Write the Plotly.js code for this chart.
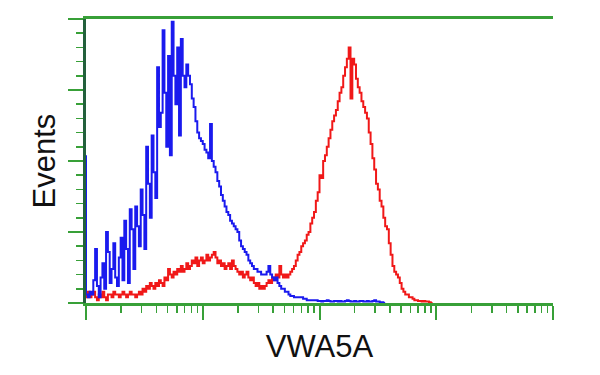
<!DOCTYPE html>
<html>
<head>
<meta charset="utf-8">
<script src="https://cdn.plot.ly/plotly-3.0.1.min.js"></script>
<style>html,body{margin:0;padding:0;background:#fff;}#chart{width:600px;height:375px;}</style>
</head>
<body>
<div id="chart"></div>
<script>
// Histogram channel counts (256 log channels over 4 decades, 64 per decade)
const channelsPerDecade = 64;

// Blue histogram (control), channel 0 upward
const blueCounts = [
  52,3,2,4,3,8,19,6,2,9,
  14,5,25,18,7,12,21,9,6,16,
  23,8,29,19,7,33,26,12,34,27,
  20,40,31,19,55,42,30,59,46,37,
  83,62,67,96,74,55,87,52,99,80,
  70,90,59,93,80,76,84,80,77,72,
  69,64,60,58,57,56,54,53,51,63,
  50,48,46,43,41,38,36,34,32,31,
  29,28,27,26,25,22,20,19,18,17,
  15,14,13,12,12,11,11,10,10,10,
  11,13,10,9,8,9,7,6,5,5,
  4,4,3,2.5,2.5,2,2,2,2,2,
  1.5,1.5,1,1,1,1,1,1,0.7,0.7,
  0.5,0.7,0.7,1,0.7,0.5,0.5,0.7,0.7,0.5,
  0.7,0.5,0.5,0.7,1,0.7,0.5,0.5,0.7,0.5,
  0.5,0.7,0.7,0.5,0.5,0.7,0.5,0.5,0.7,1,
  0.5,0.5,0.3,0.3,0
];

// Red histogram (VWA5A stained), channel 0 upward
const redCounts = [
  3,2,4,2,3,4,2,1,3,2,
  4,2,1,3,3,2,4,3,3,2,
  3,4,3,2,3,4,3,3,2,3,
  4,3,5,4,6,5,7,6,5,7,
  6,8,7,6,9,8,12,10,9,11,
  10,12,11,13,11,12,14,12,13,15,
  14,16,13,15,16,14,15,17,15,16,
  17,18,16,14,15,13,14,12,13,14,
  12,15,13,12,11,10,11,9,10,11,
  9,8,9,7,6,7,5,6,5,6,
  7,8,7,9,8,10,9,13,10,9,
  10,9,10,11,12,13,15,17,18,20,
  21,22,24,25,28,30,32,36,39,45,
  44,50,52,55,58,61,64,66,68,71,
  74,76,80,83,86,90,72,86,84,79,
  76,74,71,69,67,65,60,56,51,47,
  42,40,36,34,30,27,26,21,17,13,
  11,10,9,7,5,4,3,3,2,2,
  1.5,1,1,0.7,0.7,0.5,0.7,0.5,0.5,0.3,
  0
];

const majorTicksX = [1, 10, 100, 1000, 10000];
const minorSteps = [2, 3, 4, 5, 6, 7, 8, 9];
const majorTicksY = [0, 25, 50, 75, 100];

const channelX = counts => counts.map((_, i) => Math.pow(10, i / channelsPerDecade));
const minorTicksX = [];
majorTicksX.slice(0, -1).forEach(d => minorSteps.forEach(m => minorTicksX.push(d * m)));

const GREEN = '#38a038';
const DARK = '#23603c';

const traces = [
  {x: channelX(redCounts), y: redCounts, type: 'scatter', mode: 'lines',
   line: {color: '#f01818', width: 2, shape: 'vh'}, hoverinfo: 'skip'},
  {x: channelX(blueCounts), y: blueCounts, type: 'scatter', mode: 'lines',
   line: {color: '#1a1aee', width: 2, shape: 'vh'}, hoverinfo: 'skip'}
];

const layout = {
  width: 600, height: 375,
  margin: {l: 86, r: 47, t: 19, b: 72, pad: 0},
  paper_bgcolor: '#ffffff', plot_bgcolor: '#ffffff',
  showlegend: false,
  font: {family: 'Liberation Sans, Arial, sans-serif', color: '#111'},
  xaxis: {
    type: 'log', range: [0, 4], fixedrange: true,
    showgrid: false, zeroline: false,
    showline: true, linecolor: GREEN, linewidth: 3, mirror: true,
    ticks: 'outside', tickmode: 'array', tickvals: majorTicksX,
    ticklen: 14, tickwidth: 2, tickcolor: GREEN, showticklabels: false,
    minor: {tickmode: 'array', tickvals: minorTicksX, ticks: 'outside', ticklen: 7, tickwidth: 1.5, tickcolor: GREEN, showgrid: false},
    title: {text: 'VWA5A', font: {size: 31, color: '#111'}, standoff: 17},
    layer: 'below traces'
  },
  yaxis: {
    range: [0, 100], fixedrange: true,
    showgrid: false, zeroline: false,
    showline: true, linecolor: DARK, linewidth: 3, mirror: false,
    ticks: 'outside', tickmode: 'array', tickvals: majorTicksY,
    ticklen: 15, tickwidth: 2, tickcolor: GREEN, showticklabels: false,
    minor: {dtick: 5, ticks: 'outside', ticklen: 7, tickwidth: 1.5, tickcolor: GREEN, showgrid: false},
    title: {text: 'Events', font: {size: 31, color: '#111'}, standoff: 4},
    layer: 'below traces'
  },
  yaxis2: {
    overlaying: 'y', side: 'right', range: [0, 100], fixedrange: true,
    showgrid: false, zeroline: false, showline: true, linecolor: GREEN, linewidth: 3,
    ticks: '', showticklabels: false
  }
};

Plotly.newPlot('chart', traces, layout, {staticPlot: true, displayModeBar: false});
</script>
</body>
</html>
